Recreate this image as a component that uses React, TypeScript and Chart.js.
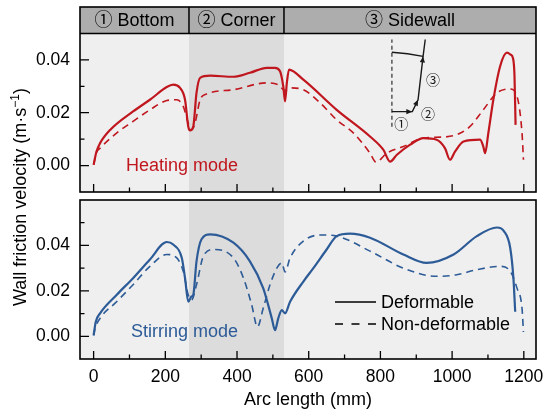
import React, { useEffect, useRef } from "react";
import { Chart, registerables } from "chart.js";

Chart.register(...registerables);

// ---------- data ----------
const heatDefX = [0, 8, 18, 46, 110, 157, 204, 222, 241, 255, 264, 269, 278, 287, 297, 325, 390, 436, 483, 506, 520, 529, 534, 539, 545, 585, 678, 771, 808, 827, 846, 883, 920, 957, 980, 994, 1008, 1032, 1078, 1087, 1092, 1101, 1115, 1134, 1153, 1163, 1170, 1174, 1177];
const heatDefY = [0.0003, 0.0053, 0.0085, 0.0135, 0.0205, 0.0249, 0.0297, 0.0306, 0.0294, 0.0249, 0.0148, 0.0133, 0.0148, 0.0275, 0.0332, 0.034, 0.0336, 0.0351, 0.037, 0.037, 0.0357, 0.03, 0.0243, 0.0313, 0.0363, 0.0325, 0.0211, 0.011, 0.006, 0.0015, 0.0041, 0.0079, 0.0104, 0.0098, 0.0066, 0.0022, 0.0053, 0.0091, 0.0098, 0.0072, 0.0047, 0.0123, 0.0249, 0.0376, 0.0427, 0.042, 0.0405, 0.034, 0.0154];

const heatNonX = [0, 8, 18, 64, 110, 157, 204, 232, 250, 264, 273, 283, 297, 315, 390, 483, 515, 534, 548, 585, 632, 678, 725, 771, 788, 818, 864, 920, 976, 1013, 1050, 1087, 1125, 1162, 1181, 1195, 1199];
const heatNonY = [0.0003, 0.005, 0.0066, 0.0123, 0.0167, 0.0211, 0.0246, 0.0249, 0.0224, 0.0161, 0.0135, 0.0161, 0.0249, 0.0271, 0.0287, 0.0313, 0.0306, 0.0284, 0.0294, 0.0287, 0.0237, 0.0173, 0.0123, 0.0047, 0.0013, 0.0047, 0.0072, 0.0104, 0.0108, 0.0117, 0.0148, 0.0211, 0.0275, 0.029, 0.0262, 0.0123, 0.0022];

const stirDefX = [0, 6, 18, 64, 110, 157, 204, 222, 246, 255, 264, 273, 278, 287, 301, 325, 390, 436, 473, 497, 506, 515, 525, 534, 548, 585, 613, 650, 678, 715, 771, 864, 929, 1004, 1069, 1125, 1145, 1162, 1171, 1176];
const stirDefY = [0.0004, 0.0064, 0.0101, 0.0182, 0.0256, 0.0338, 0.0415, 0.0404, 0.0345, 0.0256, 0.0152, 0.0175, 0.0182, 0.033, 0.0427, 0.0449, 0.0412, 0.033, 0.0212, 0.0079, 0.0027, 0.0079, 0.0115, 0.0101, 0.0152, 0.0241, 0.03, 0.0382, 0.0441, 0.0452, 0.0434, 0.036, 0.0323, 0.036, 0.0441, 0.0479, 0.0462, 0.039, 0.0256, 0.0108];

const stirNonX = [0, 4, 18, 64, 110, 157, 204, 232, 250, 264, 273, 287, 306, 334, 390, 418, 441, 457, 473, 492, 511, 525, 534, 548, 585, 632, 678, 771, 864, 957, 1013, 1069, 1134, 1162, 1181, 1195, 1199];
const stirNonY = [0.0004, 0.0034, 0.0079, 0.0152, 0.0227, 0.0308, 0.036, 0.0345, 0.0286, 0.0182, 0.016, 0.0227, 0.0352, 0.0382, 0.0345, 0.0256, 0.0138, 0.0041, 0.0123, 0.0227, 0.03, 0.0323, 0.0283, 0.0345, 0.0419, 0.0446, 0.0441, 0.0375, 0.03, 0.0264, 0.0271, 0.0293, 0.0308, 0.0286, 0.0212, 0.0123, 0.0019];

const xMajorTicks = [0, 200, 400, 600, 800, 1000, 1200];
const xMinorTicks = [100, 300, 500, 700, 900, 1100];
const yMajorTicks = [0, 0.02, 0.04];
const yMinorTopTicks = [0.01, 0.03];
const yMinorBottomTicks = [0.01, 0.03, 0.05];

const regionNames = ["\u2460 Bottom", "\u2461 Corner", "\u2462 Sidewall"];
const regionBounds = [266, 531];
const headerRange = [0.05, 0.06];
const seriesLabels = ["Deformable", "Non-deformable"];
const modeLabels = ["Heating mode", "Stirring mode"];
const xTitle = "Arc length (mm)";
const yTitleParts = ["Wall friction velocity (m\u00b7s", "\u22121", ")"];

// schematic inset (data coordinates of the top panel)
const insetDashX = [832, 832];
const insetDashY = [0.0147, 0.0477];
const insetPathX = [832, 889, 905, 919, 925];
const insetPathY = [0.0204, 0.0204, 0.0249, 0.0413, 0.0477];
const insetTopX = [832, 876, 919];
const insetTopY = [0.0429, 0.0426, 0.0413];
const insetLabels = ["\u2460", "\u2461", "\u2462"];
const insetLabelX = [858, 933, 947];
const insetLabelY = [0.0152, 0.0189, 0.0318];

const RED = "#c0171f";
const BLUE = "#2c5b97";
const FONT = "'Liberation Sans', Arial, 'Noto Sans CJK SC', sans-serif";

const pts = (xs: number[], ys: number[]) => xs.map((x, i) => ({ x, y: ys[i] }));

function arrowHead(ctx: CanvasRenderingContext2D, x0: number, y0: number, x1: number, y1: number) {
  const a = Math.atan2(y1 - y0, x1 - x0);
  const L = 6, W = 2.6;
  ctx.beginPath();
  ctx.moveTo(x1, y1);
  ctx.lineTo(x1 - L * Math.cos(a) + W * Math.sin(a), y1 - L * Math.sin(a) - W * Math.cos(a));
  ctx.lineTo(x1 - L * Math.cos(a) - W * Math.sin(a), y1 - L * Math.sin(a) + W * Math.cos(a));
  ctx.closePath();
  ctx.fill();
}

function makePanelPlugin(isTop: boolean) {
  return {
    id: "panel" + (isTop ? "Top" : "Bottom"),
    beforeDatasetsDraw(chart: any) {
      const { ctx, chartArea: a, scales } = chart;
      const x = scales.x;
      ctx.save();
      ctx.fillStyle = "#efefef";
      ctx.fillRect(a.left, a.top, a.right - a.left, a.bottom - a.top);
      const x0 = x.getPixelForValue(regionBounds[0]);
      const x1 = x.getPixelForValue(regionBounds[1]);
      ctx.fillStyle = "#dcdcdc";
      ctx.fillRect(x0, a.top, x1 - x0, a.bottom - a.top);
      ctx.restore();
    },
    afterDatasetsDraw(chart: any) {
      const { ctx, chartArea: a, scales } = chart;
      const x = scales.x, y = scales.y;
      const x0 = x.getPixelForValue(regionBounds[0]);
      const x1 = x.getPixelForValue(regionBounds[1]);
      ctx.save();
      ctx.strokeStyle = "#000";
      ctx.fillStyle = "#000";
      ctx.lineWidth = 1.5;

      if (isTop) {
        // header band
        const hy0 = y.getPixelForValue(headerRange[1]);
        const hy1 = y.getPixelForValue(headerRange[0]);
        ctx.fillStyle = "#adadad";
        ctx.fillRect(a.left, hy0, a.right - a.left, hy1 - hy0);
        ctx.beginPath();
        ctx.moveTo(a.left, hy1); ctx.lineTo(a.right, hy1);
        ctx.moveTo(x0, hy0); ctx.lineTo(x0, hy1);
        ctx.moveTo(x1, hy0); ctx.lineTo(x1, hy1);
        ctx.stroke();
        ctx.fillStyle = "#000";
        ctx.font = "18px " + FONT;
        ctx.textAlign = "center";
        ctx.textBaseline = "middle";
        const cy = (hy0 + hy1) / 2 + 1;
        const centers = [(a.left + x0) / 2, (x0 + x1) / 2, (x1 + a.right) / 2];
        regionNames.forEach((t, i) => ctx.fillText(t, centers[i], cy));

        // inset schematic
        ctx.save();
        ctx.strokeStyle = "#555";
        ctx.lineWidth = 1.5;
        ctx.setLineDash([4, 3]);
        ctx.beginPath();
        ctx.moveTo(x.getPixelForValue(insetDashX[0]), y.getPixelForValue(insetDashY[0]));
        ctx.lineTo(x.getPixelForValue(insetDashX[1]), y.getPixelForValue(insetDashY[1]));
        ctx.stroke();
        ctx.restore();
        ctx.strokeStyle = "#1a1a1a";
        ctx.fillStyle = "#1a1a1a";
        ctx.lineWidth = 1.4;
        const px = insetPathX.map((v) => x.getPixelForValue(v));
        const py = insetPathY.map((v) => y.getPixelForValue(v));
        ctx.beginPath();
        ctx.moveTo(px[0], py[0]);
        for (let i = 1; i < px.length; i++) ctx.lineTo(px[i], py[i]);
        ctx.stroke();
        for (let i = 1; i < px.length - 1; i++) arrowHead(ctx, px[i - 1], py[i - 1], px[i], py[i]);
        const tx = insetTopX.map((v) => x.getPixelForValue(v));
        const ty = insetTopY.map((v) => y.getPixelForValue(v));
        ctx.beginPath();
        ctx.moveTo(tx[0], ty[0]);
        ctx.quadraticCurveTo(tx[1], ty[1], tx[2], ty[2]);
        ctx.stroke();
        ctx.font = "14px " + FONT;
        ctx.textAlign = "center";
        ctx.textBaseline = "middle";
        insetLabels.forEach((t, i) =>
          ctx.fillText(t, x.getPixelForValue(insetLabelX[i]), y.getPixelForValue(insetLabelY[i]))
        );
      } else {
        // legend
        const ds = chart.data.datasets;
        const lx0 = a.left + 255, lx1 = a.left + 296;
        const rows = [a.top + 102, a.top + 124];
        ctx.font = "18px " + FONT;
        ctx.textAlign = "left";
        ctx.textBaseline = "middle";
        rows.forEach((ry, i) => {
          ctx.save();
          ctx.strokeStyle = "#000";
          ctx.lineWidth = 1.6;
          ctx.setLineDash(i === 0 ? [] : [8, 8.5]);
          ctx.beginPath();
          ctx.moveTo(lx0, ry);
          ctx.lineTo(lx1, ry);
          ctx.stroke();
          ctx.restore();
          ctx.fillStyle = "#000";
          ctx.fillText(ds[i].label, lx1 + 5, ry + 1);
        });
      }

      // mode label
      ctx.font = "18px " + FONT;
      ctx.textAlign = "left";
      ctx.textBaseline = "middle";
      ctx.fillStyle = isTop ? RED : BLUE;
      if (isTop) ctx.fillText(modeLabels[0], a.left + 46, a.bottom - 26);
      else ctx.fillText(modeLabels[1], a.left + 51, a.bottom - 27);

      // ticks (inward)
      ctx.strokeStyle = "#000";
      ctx.lineWidth = 1.3;
      ctx.beginPath();
      xMajorTicks.forEach((v) => {
        const p = x.getPixelForValue(v);
        ctx.moveTo(p, a.bottom); ctx.lineTo(p, a.bottom - 8);
      });
      xMinorTicks.forEach((v) => {
        const p = x.getPixelForValue(v);
        ctx.moveTo(p, a.bottom); ctx.lineTo(p, a.bottom - 4.5);
      });
      yMajorTicks.forEach((v) => {
        const p = y.getPixelForValue(v);
        ctx.moveTo(a.left, p); ctx.lineTo(a.left + 9, p);
      });
      (isTop ? yMinorTopTicks : yMinorBottomTicks).forEach((v) => {
        const p = y.getPixelForValue(v);
        ctx.moveTo(a.left, p); ctx.lineTo(a.left + 4.5, p);
      });
      ctx.stroke();

      // frame
      ctx.lineWidth = 1.6;
      ctx.strokeRect(a.left, a.top, a.right - a.left, a.bottom - a.top);

      // y title (drawn once, on the top canvas)
      if (isTop) {
        ctx.save();
        ctx.translate(26, 197);
        ctx.rotate(-Math.PI / 2);
        ctx.fillStyle = "#000";
        ctx.textBaseline = "alphabetic";
        ctx.textAlign = "left";
        ctx.font = "18px " + FONT;
        const w0 = ctx.measureText(yTitleParts[0]).width;
        const w2 = ctx.measureText(yTitleParts[2]).width;
        ctx.font = "12px " + FONT;
        const w1 = ctx.measureText(yTitleParts[1]).width;
        const start = -(w0 + w1 + w2) / 2;
        ctx.font = "18px " + FONT;
        ctx.fillText(yTitleParts[0], start, 0);
        ctx.font = "12px " + FONT;
        ctx.fillText(yTitleParts[1], start + w0, -7);
        ctx.font = "18px " + FONT;
        ctx.fillText(yTitleParts[2], start + w0 + w1, 0);
        ctx.restore();
      }
      ctx.restore();
    },
  };
}

function makeConfig(isTop: boolean): any {
  const color = isTop ? RED : BLUE;
  const defPts = isTop ? pts(heatDefX, heatDefY) : pts(stirDefX, stirDefY);
  const nonPts = isTop ? pts(heatNonX, heatNonY) : pts(stirNonX, stirNonY);
  return {
    type: "line",
    data: {
      datasets: [
        { label: seriesLabels[0], data: defPts, borderColor: color, borderWidth: 2.2, pointRadius: 0, cubicInterpolationMode: "monotone", fill: false },
        { label: seriesLabels[1], data: nonPts, borderColor: color, borderWidth: 1.6, borderDash: [7, 5], pointRadius: 0, cubicInterpolationMode: "monotone", fill: false },
      ],
    },
    options: {
      animation: false,
      responsive: false,
      devicePixelRatio: 1,
      events: [],
      layout: { padding: { left: 0, right: 14, top: isTop ? 7 : 200, bottom: 0 } },
      plugins: { legend: { display: false }, tooltip: { enabled: false } },
      scales: {
        x: {
          type: "linear",
          position: "bottom",
          min: -38,
          max: 1234,
          grid: { display: false, drawTicks: false },
          border: { display: false },
          ticks: {
            display: !isTop,
            color: "#000",
            font: { family: FONT, size: 17.5 },
            padding: 8,
            maxRotation: 0,
            callback: (v: any) => String(v),
          },
          title: {
            display: !isTop,
            text: xTitle,
            color: "#000",
            font: { family: FONT, size: 18 },
            padding: { top: 0, bottom: 6 },
          },
          afterBuildTicks: (s: any) => { s.ticks = xMajorTicks.map((value) => ({ value })); },
          afterFit: (s: any) => {
            s.height = isTop ? 417 - 192 : 417 - 359;
            s.paddingLeft = 0; s.paddingRight = 0; s.paddingTop = 0; s.paddingBottom = 0;
          },
        },
        y: {
          type: "linear",
          min: -0.01,
          max: 0.06,
          grid: { display: false, drawTicks: false },
          border: { display: false },
          ticks: {
            color: "#000",
            font: { family: FONT, size: 17.5 },
            padding: 10,
            callback: (v: any) => Number(v).toFixed(2),
          },
          afterBuildTicks: (s: any) => { s.ticks = yMajorTicks.map((value) => ({ value })); },
          afterFit: (s: any) => {
            s.width = 80;
            s.paddingLeft = 0; s.paddingRight = 0; s.paddingTop = 0; s.paddingBottom = 0;
          },
        },
      },
    },
    plugins: [makePanelPlugin(isTop)],
  };
}

export default function App() {
  const topRef = useRef<HTMLCanvasElement | null>(null);
  const botRef = useRef<HTMLCanvasElement | null>(null);
  useEffect(() => {
    const c1 = new Chart(topRef.current as HTMLCanvasElement, makeConfig(true));
    const c2 = new Chart(botRef.current as HTMLCanvasElement, makeConfig(false));
    return () => { c1.destroy(); c2.destroy(); };
  }, []);
  const cs: React.CSSProperties = { position: "absolute", left: 0, top: 0, width: 550, height: 417 };
  return (
    <div style={{ position: "fixed", left: 0, top: 0, width: 550, height: 417, background: "#fff" }}>
      <canvas ref={topRef} width={550} height={417} style={cs} />
      <canvas ref={botRef} width={550} height={417} style={cs} />
    </div>
  );
}
